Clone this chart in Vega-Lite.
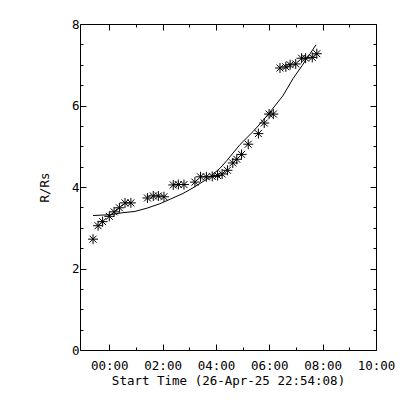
{
  "$schema": "https://vega.github.io/schema/vega-lite/v6.json",
  "width": 296,
  "height": 326,
  "autosize": "none",
  "padding": {"left": 80, "top": 24, "right": 24, "bottom": 50},
  "background": "white",
  "datasets": {
    "obs": [
      {"t": -0.61, "r": 2.72}, {"t": -0.42, "r": 3.05}, {"t": -0.25, "r": 3.15},
      {"t": 0.0, "r": 3.28}, {"t": 0.18, "r": 3.39}, {"t": 0.38, "r": 3.49},
      {"t": 0.59, "r": 3.61}, {"t": 0.81, "r": 3.61}, {"t": 1.43, "r": 3.73},
      {"t": 1.65, "r": 3.78}, {"t": 1.84, "r": 3.78}, {"t": 2.05, "r": 3.76},
      {"t": 2.40, "r": 4.05}, {"t": 2.59, "r": 4.06}, {"t": 2.80, "r": 4.06},
      {"t": 3.21, "r": 4.12}, {"t": 3.42, "r": 4.25}, {"t": 3.64, "r": 4.25},
      {"t": 3.86, "r": 4.26}, {"t": 4.06, "r": 4.28}, {"t": 4.23, "r": 4.32},
      {"t": 4.43, "r": 4.41}, {"t": 4.63, "r": 4.59}, {"t": 4.78, "r": 4.68},
      {"t": 4.96, "r": 4.80}, {"t": 5.21, "r": 5.05}, {"t": 5.59, "r": 5.31},
      {"t": 5.81, "r": 5.57}, {"t": 5.99, "r": 5.79}, {"t": 6.15, "r": 5.79},
      {"t": 6.40, "r": 6.92}, {"t": 6.62, "r": 6.95}, {"t": 6.78, "r": 7.00},
      {"t": 6.99, "r": 7.02}, {"t": 7.21, "r": 7.16}, {"t": 7.36, "r": 7.16},
      {"t": 7.61, "r": 7.18}, {"t": 7.78, "r": 7.27}
    ],
    "fit": [
      {"t": -0.61, "r": 3.30}, {"t": 0.03, "r": 3.32}, {"t": 0.51, "r": 3.37},
      {"t": 0.96, "r": 3.40}, {"t": 1.41, "r": 3.48}, {"t": 1.90, "r": 3.59},
      {"t": 2.28, "r": 3.70}, {"t": 2.76, "r": 3.84}, {"t": 3.14, "r": 3.98},
      {"t": 3.70, "r": 4.21}, {"t": 4.15, "r": 4.46}, {"t": 4.41, "r": 4.65},
      {"t": 4.90, "r": 5.04}, {"t": 5.39, "r": 5.36}, {"t": 5.76, "r": 5.63},
      {"t": 6.10, "r": 5.90}, {"t": 6.51, "r": 6.24}, {"t": 6.89, "r": 6.66},
      {"t": 7.23, "r": 6.98}, {"t": 7.53, "r": 7.27}, {"t": 7.75, "r": 7.49}
    ]
  },
  "config": {
    "view": {"stroke": "black", "strokeWidth": 1},
    "axis": {
      "domain": false,
      "grid": false,
      "ticks": true,
      "tickColor": "black",
      "tickWidth": 1,
      "labelColor": "black",
      "labelFont": "DejaVu Sans Mono",
      "labelFontSize": 12.5,
      "labelFlush": false,
      "labelOverlap": false,
      "titleColor": "black",
      "titleFont": "DejaVu Sans Mono",
      "titleFontSize": 12.5,
      "titleFontWeight": "normal"
    }
  },
  "layer": [
    {
      "data": {"name": "obs"},
      "mark": {
        "type": "point",
        "shape": "M-1,0L1,0M0,-1L0,1M-0.7,-0.7L0.7,0.7M-0.7,0.7L0.7,-0.7",
        "size": 100,
        "filled": false,
        "stroke": "black",
        "strokeWidth": 1,
        "opacity": 1
      },
      "encoding": {
        "x": {
          "field": "t", "type": "quantitative",
          "scale": {"domain": [-1.098, 10], "nice": false, "zero": false},
          "axis": {
            "orient": "bottom",
            "values": [0, 1, 2, 3, 4, 5, 6, 7, 8, 9, 10],
            "labelExpr": "datum.value % 2 == 0 ? format(datum.value, '02d') + ':00' : ''",
            "tickSize": {"condition": {"test": "datum.value % 2 == 0", "value": -6}, "value": -3},
            "labelPadding": 15,
            "title": "Start Time (26-Apr-25 22:54:08)",
            "titlePadding": 0
          }
        },
        "y": {
          "field": "r", "type": "quantitative",
          "scale": {"domain": [0, 8], "nice": false, "zero": true},
          "axis": {
            "orient": "left",
            "values": [0, 0.5, 1, 1.5, 2, 2.5, 3, 3.5, 4, 4.5, 5, 5.5, 6, 6.5, 7, 7.5, 8],
            "labelExpr": "datum.value % 2 == 0 ? datum.value + '' : ''",
            "tickSize": {"condition": {"test": "datum.value % 2 == 0", "value": -6}, "value": -3},
            "labelPadding": 7,
            "title": "R/Rs",
            "titlePadding": 20
          }
        }
      }
    },
    {
      "data": {"name": "fit"},
      "mark": {"type": "line", "color": "black", "strokeWidth": 1},
      "encoding": {
        "x": {
          "field": "t", "type": "quantitative",
          "axis": {
            "orient": "top",
            "values": [0, 1, 2, 3, 4, 5, 6, 7, 8, 9, 10],
            "labels": false,
            "tickSize": {"condition": {"test": "datum.value % 2 == 0", "value": -6}, "value": -3},
            "title": null
          }
        },
        "y": {
          "field": "r", "type": "quantitative",
          "axis": {
            "orient": "right",
            "values": [0, 0.5, 1, 1.5, 2, 2.5, 3, 3.5, 4, 4.5, 5, 5.5, 6, 6.5, 7, 7.5, 8],
            "labels": false,
            "tickSize": {"condition": {"test": "datum.value % 2 == 0", "value": -6}, "value": -3},
            "title": null
          }
        }
      }
    }
  ],
  "resolve": {"axis": {"x": "independent", "y": "independent"}}
}
